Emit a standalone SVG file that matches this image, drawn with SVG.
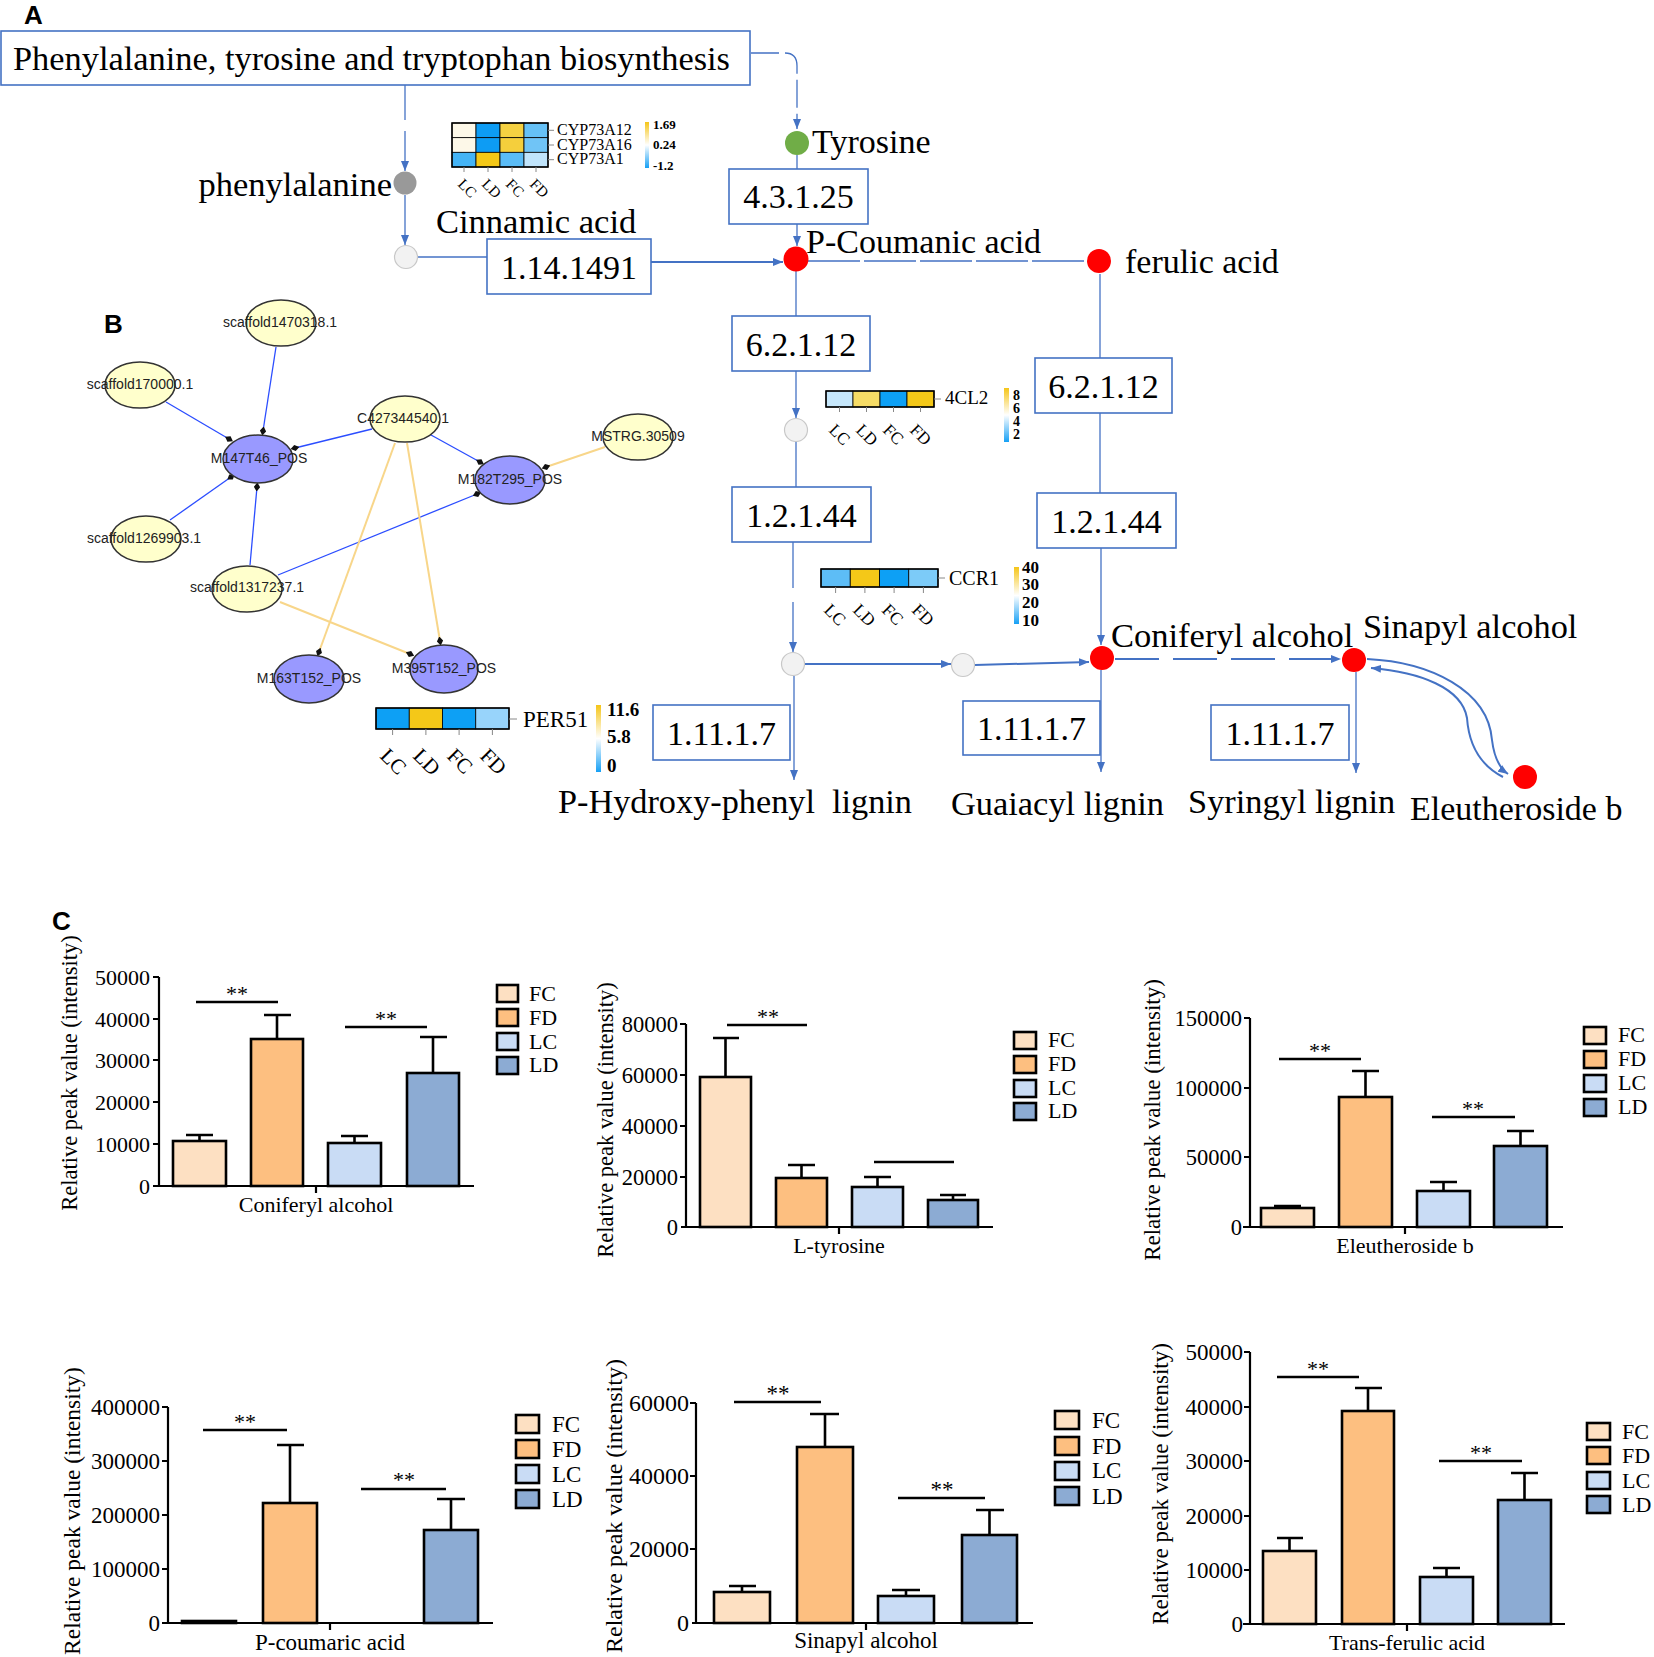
<svg xmlns="http://www.w3.org/2000/svg" width="1654" height="1657" viewBox="0 0 1654 1657">
<style>
.t{font-family:"Liberation Serif","Times New Roman",serif;fill:#000}
.b{font-size:34.5px}
.bx{fill:#fff;stroke:#4472c4;stroke-width:1.6}
.ln{stroke:#4472c4;stroke-width:1.3;fill:none}
.lt{stroke:#4472c4;stroke-width:2;fill:none}
.ar{marker-end:url(#arr)}
.lab{font-family:"Liberation Sans",Arial,sans-serif;font-weight:bold;font-size:26px}
.net{font-family:"Liberation Sans",Arial,sans-serif;font-size:14px;fill:#222}
.yel{fill:#ffffcc;stroke:#333;stroke-width:1.5}
.pur{fill:#9999ff;stroke:#333;stroke-width:1.5}
.eb{stroke:#2b4dff;stroke-width:1.3;marker-end:url(#dia)}
.ey{stroke:#f8d68a;stroke-width:2;marker-end:url(#dia)}
.red{fill:#ff0000}
.lc{fill:#f2f2f2;stroke:#c8c8c8;stroke-width:1.2}
.cell{stroke:#000;stroke-width:0.8}
.hb{fill:none;stroke:#000;stroke-width:1.5}
.tk{stroke:#888;stroke-width:1}
.cb{font-weight:bold}
.bar{stroke:#000;stroke-width:2.6}
.ax{stroke:#000;stroke-width:2.2;fill:none}
.eline{stroke:#000;stroke-width:2.6;fill:none}
.fc{fill:#fde0c2}.fd{fill:#fdbf80}.lcb{fill:#c9dcf5}.ld{fill:#8cabd3}
.tl{text-anchor:end}
.mid{text-anchor:middle}
</style>
<defs>
<marker id="arr" viewBox="0 0 10 8" refX="10" refY="4" markerWidth="10" markerHeight="8" markerUnits="userSpaceOnUse" orient="auto"><path d="M0,0 L10,4 L0,8 z" fill="#4472c4"/></marker>
<marker id="dia" viewBox="-5 -3.5 10 7" refX="0" refY="0" markerWidth="9" markerHeight="6.5" markerUnits="userSpaceOnUse" orient="auto"><path d="M-5,0 L0,-3.5 L5,0 L0,3.5 z" fill="#111"/></marker>
<linearGradient id="cg" x1="0" y1="0" x2="0" y2="1"><stop offset="0" stop-color="#f5c518"/><stop offset="0.5" stop-color="#ffffff"/><stop offset="1" stop-color="#16a0f5"/></linearGradient>
</defs>
<rect width="1654" height="1657" fill="#fff"/>

<text class="lab" x="24" y="24">A</text>
<text class="lab" x="104" y="333">B</text>
<text class="lab" x="52" y="930">C</text>

<!-- connectors panel A -->
<g id="connectors-A">
<path class="ln ar" d="M751,53 H785 Q797,53 797,66 V129" stroke-dasharray="28 6"/>
<path class="ln" d="M405,85 V120"/>
<path class="ln ar" d="M405,131 V171"/>
<path class="ln ar" d="M405,195 V245"/>
<path class="ln" d="M418,257 H487"/>
<path class="lt ar" d="M651,262 H783"/>
<path class="ln" d="M797,155 V169"/>
<path class="ln ar" d="M797,224 V246"/>
<path class="ln" d="M808,261 H1086" stroke-dasharray="52 4"/>
<path class="ln" d="M796,270 V316"/>
<path class="ln ar" d="M796,371 V418"/>
<path class="ln" d="M1100,274 V358"/>
<path class="ln" d="M1100,413 V493"/>
<path class="ln" d="M796,441 V487"/>
<path class="ln" d="M793,542 V588"/>
<path class="ln ar" d="M793,602 V652"/>
<path class="lt ar" d="M805,664 H951"/>
<path class="lt ar" d="M975,665 L1089,662"/>
<path class="ln ar" d="M1101,548 V645"/>
<path class="lt ar" d="M1115,659 H1341" stroke-dasharray="44 14"/>
<path class="ln ar" d="M794,676 V780"/>
<path class="ln ar" d="M1101,670 V772"/>
<path class="ln ar" d="M1356,672 V773"/>
<path class="lt ar" d="M1367,659 C1430,662 1488,690 1492,740 Q1495,765 1508,774"/>
<path class="lt ar" d="M1503,777 Q1470,760 1467,718 C1462,688 1420,672 1371,668"/>
</g>

<!-- panel A nodes -->
<g id="title"><rect class="bx" x="1" y="31" width="749" height="54"/><text class="t b" x="13" y="70" textLength="717" lengthAdjust="spacingAndGlyphs">Phenylalanine, tyrosine and tryptophan biosynthesis</text></g>
<g id="phenylalanine"><circle cx="405" cy="183" r="11.5" fill="#999"/><text class="t b tl" x="392" y="196">phenylalanine</text></g>
<g id="cinnamic"><circle class="lc" cx="406" cy="257" r="11.5"/><text class="t b" x="436" y="233">Cinnamic acid</text></g>
<g id="ec-1.14.1491"><rect class="bx" x="487" y="239" width="164" height="55"/><text class="t mid" x="569" y="279" font-size="34">1.14.1491</text></g>
<g id="tyrosine"><circle cx="797" cy="143" r="12" fill="#70ad47"/><text class="t" x="812" y="153" font-size="34">Tyrosine</text></g>
<g id="ec-4.3.1.25"><rect class="bx" x="729" y="169" width="139" height="55"/><text class="t mid" x="798.5" y="208" font-size="34">4.3.1.25</text></g>
<g id="p-coumanic"><circle class="red" cx="796" cy="259" r="12.5"/><text class="t" x="806" y="253" font-size="34">P-Coumanic acid</text></g>
<g id="ferulic"><circle class="red" cx="1099" cy="261" r="12"/><text class="t" x="1125" y="273" font-size="34">ferulic acid</text></g>
<g id="ec-6.2.1.12-a"><rect class="bx" x="732" y="316" width="138" height="55"/><text class="t mid" x="801" y="356" font-size="34">6.2.1.12</text></g>
<g id="ec-6.2.1.12-b"><rect class="bx" x="1035" y="358" width="137" height="55"/><text class="t mid" x="1103.5" y="398" font-size="34">6.2.1.12</text></g>
<g id="mid1"><circle class="lc" cx="796" cy="430" r="11.5"/></g>
<g id="ec-1.2.1.44-a"><rect class="bx" x="732" y="487" width="139" height="55"/><text class="t mid" x="801.5" y="527" font-size="34">1.2.1.44</text></g>
<g id="ec-1.2.1.44-b"><rect class="bx" x="1037" y="493" width="139" height="55"/><text class="t mid" x="1106.5" y="533" font-size="34">1.2.1.44</text></g>
<g id="mid2"><circle class="lc" cx="793" cy="664" r="11.5"/></g>
<g id="mid3"><circle class="lc" cx="963" cy="665" r="11.5"/></g>
<g id="coniferyl"><circle class="red" cx="1102" cy="658" r="12"/><text class="t" x="1111" y="647" font-size="34.5">Coniferyl alcohol</text></g>
<g id="sinapyl"><circle class="red" cx="1354" cy="660" r="12"/><text class="t" x="1363" y="638" font-size="34.3">Sinapyl alcohol</text></g>
<g id="eleutheroside"><circle class="red" cx="1525" cy="777" r="12"/><text class="t" x="1410" y="820" font-size="34">Eleutheroside b</text></g>
<g id="ec-1.11.1.7-a"><rect class="bx" x="653" y="705" width="137" height="55"/><text class="t mid" x="721.5" y="745" font-size="34">1.11.1.7</text></g>
<g id="ec-1.11.1.7-b"><rect class="bx" x="963" y="701" width="137" height="54"/><text class="t mid" x="1031.5" y="740" font-size="34">1.11.1.7</text></g>
<g id="ec-1.11.1.7-c"><rect class="bx" x="1211" y="705" width="138" height="55"/><text class="t mid" x="1280" y="745" font-size="34">1.11.1.7</text></g>
<g id="hydroxyphenyl"><text class="t" x="558" y="813" font-size="34" xml:space="preserve" style="white-space:pre" textLength="354" lengthAdjust="spacingAndGlyphs">P-Hydroxy-phenyl  lignin</text></g>
<g id="guaiacyl"><text class="t" x="951" y="815" font-size="34.4">Guaiacyl lignin</text></g>
<g id="syringyl"><text class="t" x="1188" y="813" font-size="34.4">Syringyl lignin</text></g>

<!-- heatmaps -->
<g id="hm-cyp73">
<rect class="cell" x="452" y="123" width="24" height="14.67" fill="#fdf8e8"/>
<rect class="cell" x="476" y="123" width="24" height="14.67" fill="#0d9cf4"/>
<rect class="cell" x="500" y="123" width="24" height="14.67" fill="#f5d142"/>
<rect class="cell" x="524" y="123" width="24" height="14.67" fill="#66c1f6"/>
<rect class="cell" x="452" y="137.67" width="24" height="14.67" fill="#fdf8e8"/>
<rect class="cell" x="476" y="137.67" width="24" height="14.67" fill="#0d9cf4"/>
<rect class="cell" x="500" y="137.67" width="24" height="14.67" fill="#f5cf3c"/>
<rect class="cell" x="524" y="137.67" width="24" height="14.67" fill="#70c4f6"/>
<rect class="cell" x="452" y="152.33" width="24" height="14.67" fill="#44b4f6"/>
<rect class="cell" x="476" y="152.33" width="24" height="14.67" fill="#f4c817"/>
<rect class="cell" x="500" y="152.33" width="24" height="14.67" fill="#5abcf6"/>
<rect class="cell" x="524" y="152.33" width="24" height="14.67" fill="#c0e4fb"/>
<rect class="hb" x="452" y="123" width="96" height="44"/>
<path class="tk" d="M548,130.3 H554 M548,145 H554 M548,159.7 H554 M464,167 V172 M488,167 V172 M512,167 V172 M536,167 V172"/>
<text class="t" x="557" y="135" font-size="16">CYP73A12</text>
<text class="t" x="557" y="149.5" font-size="16">CYP73A16</text>
<text class="t" x="557" y="164" font-size="16">CYP73A1</text>
<g class="t" font-size="15">
<text transform="translate(457,185) rotate(45)">LC</text>
<text transform="translate(481,185) rotate(45)">LD</text>
<text transform="translate(505,185) rotate(45)">FC</text>
<text transform="translate(529,185) rotate(45)">FD</text>
</g>
<rect x="645" y="122" width="4" height="46" fill="url(#cg)"/>
<g class="t cb" font-size="13"><text x="653" y="129">1.69</text><text x="653" y="149">0.24</text><text x="653" y="170">-1.2</text></g>
</g>

<g id="hm-4cl2">
<rect class="cell" x="826" y="391" width="27" height="16" fill="#c6e7fb"/>
<rect class="cell" x="853" y="391" width="27" height="16" fill="#f6dc66"/>
<rect class="cell" x="880" y="391" width="27" height="16" fill="#0da0f5"/>
<rect class="cell" x="907" y="391" width="27" height="16" fill="#f4c818"/>
<rect class="hb" x="826" y="391" width="108" height="16"/>
<path class="tk" d="M934,399 H941 M839.5,407 V412 M866.5,407 V412 M893.5,407 V412 M920.5,407 V412"/>
<text class="t" x="945" y="404" font-size="19">4CL2</text>
<g class="t" font-size="17">
<text transform="translate(828,431) rotate(45)">LC</text>
<text transform="translate(855,431) rotate(45)">LD</text>
<text transform="translate(882,431) rotate(45)">FC</text>
<text transform="translate(909,431) rotate(45)">FD</text>
</g>
<rect x="1004" y="388" width="5" height="54" fill="url(#cg)"/>
<g class="t cb" font-size="14"><text x="1013" y="400">8</text><text x="1013" y="413">6</text><text x="1013" y="426">4</text><text x="1013" y="439">2</text></g>
</g>

<g id="hm-ccr1">
<rect class="cell" x="821" y="569" width="29.25" height="18" fill="#5dbdf6"/>
<rect class="cell" x="850.25" y="569" width="29.25" height="18" fill="#f4c818"/>
<rect class="cell" x="879.5" y="569" width="29.25" height="18" fill="#0da0f5"/>
<rect class="cell" x="908.75" y="569" width="29.25" height="18" fill="#7ccbf8"/>
<rect class="hb" x="821" y="569" width="117" height="18"/>
<path class="tk" d="M938,578 H945 M835.6,587 V593 M864.9,587 V593 M894.1,587 V593 M923.4,587 V593"/>
<text class="t" x="949" y="585" font-size="20">CCR1</text>
<g class="t" font-size="17.5">
<text transform="translate(823,611) rotate(45)">LC</text>
<text transform="translate(852,611) rotate(45)">LD</text>
<text transform="translate(881,611) rotate(45)">FC</text>
<text transform="translate(911,611) rotate(45)">FD</text>
</g>
<rect x="1014" y="567" width="5" height="57" fill="url(#cg)"/>
<g class="t cb" font-size="17"><text x="1022" y="573">40</text><text x="1022" y="590">30</text><text x="1022" y="608">20</text><text x="1022" y="626">10</text></g>
</g>

<g id="hm-per51">
<rect class="cell" x="376" y="708" width="33.25" height="21" fill="#0da0f5"/>
<rect class="cell" x="409.25" y="708" width="33.25" height="21" fill="#f4c818"/>
<rect class="cell" x="442.5" y="708" width="33.25" height="21" fill="#0da0f5"/>
<rect class="cell" x="475.75" y="708" width="33.25" height="21" fill="#98d4fb"/>
<rect class="hb" x="376" y="708" width="133" height="21"/>
<path class="tk" d="M509,719 H517 M392.6,729 V735 M425.9,729 V735 M459.1,729 V735 M492.4,729 V735"/>
<text class="t" x="523" y="727" font-size="23">PER51</text>
<g class="t" font-size="21">
<text transform="translate(379,757) rotate(45)">LC</text>
<text transform="translate(412,757) rotate(45)">LD</text>
<text transform="translate(446,757) rotate(45)">FC</text>
<text transform="translate(479,757) rotate(45)">FD</text>
</g>
<rect x="596" y="705" width="5" height="67" fill="url(#cg)"/>
<g class="t cb" font-size="19"><text x="607" y="716">11.6</text><text x="607" y="743">5.8</text><text x="607" y="772">0</text></g>
</g>

<!-- panel B network -->
<g id="connectors-B">
<line class="eb" x1="276" y1="347" x2="263" y2="431"/>
<line class="eb" x1="166" y1="402" x2="229" y2="439"/>
<line class="eb" x1="372" y1="429" x2="295" y2="448"/>
<line class="eb" x1="431" y1="435" x2="480" y2="462"/>
<line class="eb" x1="170" y1="520" x2="231" y2="477"/>
<line class="eb" x1="250" y1="565" x2="257" y2="487"/>
<line class="eb" x1="278" y1="575" x2="477" y2="494"/>
<line class="ey" x1="605" y1="447" x2="546" y2="467"/>
<line class="ey" x1="395" y1="443" x2="319" y2="652"/>
<line class="ey" x1="407" y1="443" x2="440" y2="641"/>
<line class="ey" x1="280" y1="602" x2="410" y2="654"/>
</g>
<g id="n-scaffold1470318"><ellipse class="yel" cx="281" cy="323" rx="35" ry="23"/><text class="net mid" x="280" y="327">scaffold1470318.1</text></g>
<g id="n-scaffold170000"><ellipse class="yel" cx="140" cy="385" rx="35" ry="23"/><text class="net mid" x="140" y="389">scaffold170000.1</text></g>
<g id="n-C427344540"><ellipse class="yel" cx="405" cy="419" rx="35" ry="23"/><text class="net mid" x="403" y="423">C427344540.1</text></g>
<g id="n-MSTRG30509"><ellipse class="yel" cx="638" cy="437" rx="35" ry="23"/><text class="net mid" x="638" y="441">MSTRG.30509</text></g>
<g id="n-M147T46"><ellipse class="pur" cx="258" cy="459" rx="35" ry="24"/><text class="net mid" x="259" y="463">M147T46_POS</text></g>
<g id="n-M182T295"><ellipse class="pur" cx="510" cy="480" rx="35" ry="24"/><text class="net mid" x="510" y="484">M182T295_POS</text></g>
<g id="n-scaffold1269903"><ellipse class="yel" cx="146" cy="539" rx="35" ry="23"/><text class="net mid" x="144" y="543">scaffold1269903.1</text></g>
<g id="n-scaffold1317237"><ellipse class="yel" cx="247" cy="589" rx="35" ry="23"/><text class="net mid" x="247" y="592">scaffold1317237.1</text></g>
<g id="n-M163T152"><ellipse class="pur" cx="309" cy="679" rx="35" ry="24"/><text class="net mid" x="309" y="683">M163T152_POS</text></g>
<g id="n-M395T152"><ellipse class="pur" cx="444" cy="669" rx="34" ry="24"/><text class="net mid" x="444" y="673">M395T152_POS</text></g>

<!-- Chart 1 -->
<g id="chart-coniferyl" class="t">
<path class="ax" d="M159,977 V1186 M153,1186 H474 M153,977 H159 M153,1019 H159 M153,1060 H159 M153,1102 H159 M153,1144 H159 M316,1186 V1193"/>
<g font-size="22" class="tl"><text x="150" y="985">50000</text><text x="150" y="1027">40000</text><text x="150" y="1068">30000</text><text x="150" y="1110">20000</text><text x="150" y="1152">10000</text><text x="150" y="1194">0</text></g>
<path class="eline" d="M199.5,1141 V1135 M186,1135 H213 M277,1039 V1015 M264,1015 H291 M354.5,1143 V1136 M341,1136 H368 M433,1073 V1037 M420,1037 H447"/>
<rect class="bar fc" x="173" y="1141" width="53" height="45"/>
<rect class="bar fd" x="251" y="1039" width="52" height="147"/>
<rect class="bar lcb" x="328" y="1143" width="53" height="43"/>
<rect class="bar ld" x="407" y="1073" width="52" height="113"/>
<path class="eline" d="M196,1002 H278 M345,1027 H427"/>
<g font-size="22" class="mid"><text x="237" y="1001">**</text><text x="386" y="1026">**</text></g>
<rect class="bar fc" x="497" y="985" width="21" height="17"/><rect class="bar fd" x="497" y="1009" width="21" height="17"/><rect class="bar lcb" x="497" y="1033" width="21" height="17"/><rect class="bar ld" x="497" y="1057" width="21" height="17"/>
<g font-size="22"><text x="529" y="1001">FC</text><text x="529" y="1025">FD</text><text x="529" y="1049">LC</text><text x="529" y="1072">LD</text></g>
<text class="mid" x="316" y="1212" font-size="22">Coniferyl alcohol</text>
<text class="mid" transform="translate(77,1073) rotate(-90)" font-size="22.5">Relative peak value (intensity)</text>
</g>

<!-- Chart 2 -->
<g id="chart-tyrosine" class="t">
<path class="ax" d="M686,1024 V1227 M681,1227 H993 M680,1024 H686 M680,1075 H686 M680,1126 H686 M680,1177 H686 M839,1227 V1234"/>
<g font-size="22.5" class="tl"><text x="678" y="1032">80000</text><text x="678" y="1083">60000</text><text x="678" y="1134">40000</text><text x="678" y="1185">20000</text><text x="678" y="1235">0</text></g>
<path class="eline" d="M725.5,1077 V1038 M713,1038 H739 M801.5,1178 V1165 M788,1165 H815 M877.5,1187 V1177 M864,1177 H891 M953,1200 V1195 M940,1195 H966"/>
<rect class="bar fc" x="700" y="1077" width="51" height="150"/>
<rect class="bar fd" x="776" y="1178" width="51" height="49"/>
<rect class="bar lcb" x="852" y="1187" width="51" height="40"/>
<rect class="bar ld" x="928" y="1200" width="50" height="27"/>
<path class="eline" d="M727,1025 H807 M874,1162 H954"/>
<text class="mid" x="768" y="1024" font-size="22">**</text>
<rect class="bar fc" x="1014" y="1032" width="22" height="17"/><rect class="bar fd" x="1014" y="1056" width="22" height="17"/><rect class="bar lcb" x="1014" y="1080" width="22" height="17"/><rect class="bar ld" x="1014" y="1103" width="22" height="17"/>
<g font-size="22"><text x="1048" y="1047">FC</text><text x="1048" y="1071">FD</text><text x="1048" y="1095">LC</text><text x="1048" y="1118">LD</text></g>
<text class="mid" x="839" y="1253" font-size="22">L-tyrosine</text>
<text class="mid" transform="translate(613,1120) rotate(-90)" font-size="22.5">Relative peak value (intensity)</text>
</g>

<!-- Chart 3 -->
<g id="chart-eleutheroside" class="t">
<path class="ax" d="M1250,1018 V1227 M1243,1227 H1563 M1244,1018 H1250 M1244,1088 H1250 M1244,1157 H1250 M1405,1227 V1234"/>
<g font-size="22.5" class="tl"><text x="1242" y="1026">150000</text><text x="1242" y="1096">100000</text><text x="1242" y="1165">50000</text><text x="1242" y="1235">0</text></g>
<path class="eline" d="M1287.5,1208 V1206 M1274,1206 H1301 M1365.5,1097 V1071 M1352,1071 H1379 M1443.5,1191 V1182 M1430,1182 H1457 M1520.5,1146 V1131 M1507,1131 H1534"/>
<rect class="bar fc" x="1261" y="1208" width="53" height="19"/>
<rect class="bar fd" x="1339" y="1097" width="53" height="130"/>
<rect class="bar lcb" x="1417" y="1191" width="53" height="36"/>
<rect class="bar ld" x="1494" y="1146" width="53" height="81"/>
<path class="eline" d="M1279,1059 H1361 M1432,1117 H1515"/>
<g font-size="22" class="mid"><text x="1320" y="1058">**</text><text x="1473" y="1116">**</text></g>
<rect class="bar fc" x="1584" y="1027" width="22" height="17"/><rect class="bar fd" x="1584" y="1051" width="22" height="17"/><rect class="bar lcb" x="1584" y="1075" width="22" height="17"/><rect class="bar ld" x="1584" y="1099" width="22" height="17"/>
<g font-size="22"><text x="1618" y="1042">FC</text><text x="1618" y="1066">FD</text><text x="1618" y="1090">LC</text><text x="1618" y="1114">LD</text></g>
<text class="mid" x="1405" y="1253" font-size="22">Eleutheroside b</text>
<text class="mid" transform="translate(1160,1120) rotate(-90)" font-size="23">Relative peak value (intensity)</text>
</g>

<!-- Chart 4 -->
<g id="chart-pcoumaric" class="t">
<path class="ax" d="M168,1407 V1623 M162,1623 H493 M162,1407 H168 M162,1461 H168 M162,1515 H168 M162,1569 H168 M330,1623 V1630"/>
<g font-size="23" class="tl"><text x="160" y="1415">400000</text><text x="160" y="1469">300000</text><text x="160" y="1523">200000</text><text x="160" y="1577">100000</text><text x="160" y="1631">0</text></g>
<path class="eline" d="M290,1503 V1445 M277,1445 H304 M451,1530 V1499 M437,1499 H465"/>
<rect class="bar fc" x="182" y="1621" width="54" height="2"/>
<rect class="bar fd" x="263" y="1503" width="54" height="120"/>
<rect class="bar ld" x="424" y="1530" width="54" height="93"/>
<path class="eline" d="M203,1430 H287 M361,1489 H446"/>
<g font-size="22" class="mid"><text x="245" y="1429">**</text><text x="404" y="1487">**</text></g>
<rect class="bar fc" x="516" y="1415" width="23" height="18"/><rect class="bar fd" x="516" y="1440" width="23" height="18"/><rect class="bar lcb" x="516" y="1465" width="23" height="18"/><rect class="bar ld" x="516" y="1490" width="23" height="18"/>
<g font-size="23"><text x="552" y="1432">FC</text><text x="552" y="1457">FD</text><text x="552" y="1482">LC</text><text x="552" y="1507">LD</text></g>
<text class="mid" x="330" y="1650" font-size="23">P-coumaric acid</text>
<text class="mid" transform="translate(80,1511) rotate(-90)" font-size="23.5">Relative peak value (intensity)</text>
</g>

<!-- Chart 5 -->
<g id="chart-sinapyl" class="t">
<path class="ax" d="M696,1403 V1623 M692,1623 H1033 M690,1403 H696 M690,1476 H696 M690,1549 H696 M866,1623 V1630"/>
<g font-size="24" class="tl"><text x="689" y="1411">60000</text><text x="689" y="1484">40000</text><text x="689" y="1557">20000</text><text x="689" y="1631">0</text></g>
<path class="eline" d="M742,1592 V1586 M729,1586 H756 M825,1447 V1414 M810,1414 H839 M906,1596 V1590 M892,1590 H920 M989.5,1535 V1510 M976,1510 H1004"/>
<rect class="bar fc" x="714" y="1592" width="56" height="31"/>
<rect class="bar fd" x="797" y="1447" width="56" height="176"/>
<rect class="bar lcb" x="878" y="1596" width="56" height="27"/>
<rect class="bar ld" x="962" y="1535" width="55" height="88"/>
<path class="eline" d="M734,1402 H821 M898,1498 H985"/>
<g font-size="23" class="mid"><text x="778" y="1401">**</text><text x="942" y="1497">**</text></g>
<rect class="bar fc" x="1055" y="1411" width="24" height="18"/><rect class="bar fd" x="1055" y="1437" width="24" height="18"/><rect class="bar lcb" x="1055" y="1462" width="24" height="18"/><rect class="bar ld" x="1055" y="1487" width="24" height="18"/>
<g font-size="23"><text x="1092" y="1428">FC</text><text x="1092" y="1454">FD</text><text x="1092" y="1478">LC</text><text x="1092" y="1504">LD</text></g>
<text class="mid" x="866" y="1648" font-size="23">Sinapyl alcohol</text>
<text class="mid" transform="translate(622,1506) rotate(-90)" font-size="24">Relative peak value (intensity)</text>
</g>

<!-- Chart 6 -->
<g id="chart-transferulic" class="t">
<path class="ax" d="M1250,1352 V1624 M1243,1624 H1565 M1244,1352 H1250 M1244,1407 H1250 M1244,1461 H1250 M1244,1516 H1250 M1244,1570 H1250 M1407,1624 V1631"/>
<g font-size="23" class="tl"><text x="1243" y="1360">50000</text><text x="1243" y="1415">40000</text><text x="1243" y="1469">30000</text><text x="1243" y="1524">20000</text><text x="1243" y="1578">10000</text><text x="1243" y="1632">0</text></g>
<path class="eline" d="M1289.5,1551 V1538 M1277,1538 H1303 M1368,1411 V1388 M1355,1388 H1382 M1446.5,1577 V1568 M1433,1568 H1460 M1524.5,1500 V1473 M1511,1473 H1538"/>
<rect class="bar fc" x="1263" y="1551" width="53" height="73"/>
<rect class="bar fd" x="1342" y="1411" width="52" height="213"/>
<rect class="bar lcb" x="1420" y="1577" width="53" height="47"/>
<rect class="bar ld" x="1498" y="1500" width="53" height="124"/>
<path class="eline" d="M1277,1377 H1359 M1439,1461 H1522"/>
<g font-size="22" class="mid"><text x="1318" y="1376">**</text><text x="1481" y="1460">**</text></g>
<rect class="bar fc" x="1587" y="1423" width="23" height="17"/><rect class="bar fd" x="1587" y="1447" width="23" height="17"/><rect class="bar lcb" x="1587" y="1472" width="23" height="17"/><rect class="bar ld" x="1587" y="1496" width="23" height="17"/>
<g font-size="22"><text x="1622" y="1439">FC</text><text x="1622" y="1463">FD</text><text x="1622" y="1488">LC</text><text x="1622" y="1512">LD</text></g>
<text class="mid" x="1407" y="1650" font-size="22">Trans-ferulic acid</text>
<text class="mid" transform="translate(1168,1484) rotate(-90)" font-size="23">Relative peak value (intensity)</text>
</g>
</svg>
